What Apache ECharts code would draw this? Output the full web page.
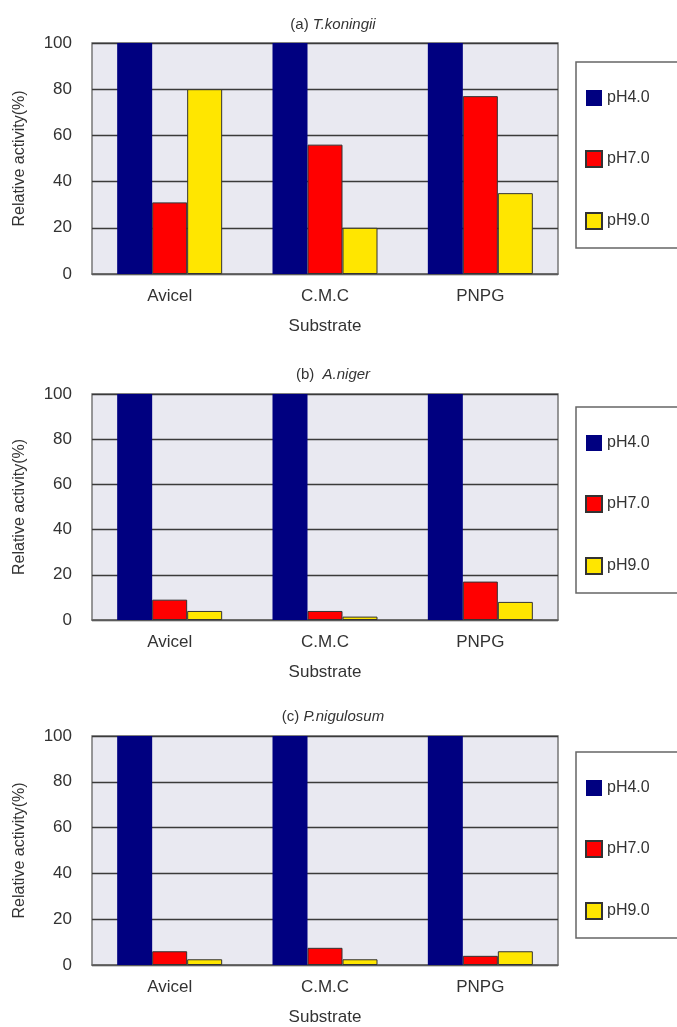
<!DOCTYPE html>
<html>
<head>
<meta charset="utf-8">
<script src="https://cdn.jsdelivr.net/npm/echarts@6/dist/echarts.min.js"></script>
<style>
html,body{margin:0;padding:0;background:#fff;}
#chart{width:677px;height:1027px;}
</style>
</head>
<body>
<div id="chart"></div>
<script>
// ---- data ----
const categories = ['Avicel', 'C.M.C', 'PNPG'];
const seriesNames = ['pH4.0', 'pH7.0', 'pH9.0'];
const yTicks = [0, 20, 40, 60, 80, 100];

const koningii_pH4 = [100, 100, 100];
const koningii_pH7 = [31, 56, 77];
const koningii_pH9 = [80, 20, 35];

const niger_pH4 = [100, 100, 100];
const niger_pH7 = [9, 4, 17];
const niger_pH9 = [4, 1.5, 8];

const nigulosum_pH4 = [100, 100, 100];
const nigulosum_pH7 = [6, 7.5, 4];
const nigulosum_pH9 = [2.5, 2.5, 6];

const panelLetters = ['(a) ', '(b)  ', '(c) '];
const panelSpecies = ['T.koningii', 'A.niger', 'P.nigulosum'];
const xAxisName = 'Substrate';
const yAxisName = 'Relative activity(%)';

// ---- layout / style ----
const FONT = 'Liberation Sans';
const colors = ['#000080', '#ff0000', '#ffe600'];
const gridTops = [43, 394, 736];
const gridHeights = [231, 226, 230];
const legendTops = [62, 407, 752];
const panelData = [
  [koningii_pH4, koningii_pH7, koningii_pH9],
  [niger_pH4, niger_pH7, niger_pH9],
  [nigulosum_pH4, nigulosum_pH7, nigulosum_pH9]
];

const grids = [], xAxes = [], yAxes = [], series = [], titles = [], legends = [];
for (let p = 0; p < 3; p++) {
  grids.push({
    left: 92, width: 466, top: gridTops[p], height: gridHeights[p],
    show: true, backgroundColor: '#e9e9f1', borderColor: '#777', borderWidth: 1.5
  });
  xAxes.push({
    type: 'category', gridIndex: p, data: categories,
    axisTick: {show: false},
    axisLine: {lineStyle: {color: '#666', width: 1.5}},
    axisLabel: {color: '#333', fontSize: 17, fontFamily: FONT, margin: 14},
    name: xAxisName, nameLocation: 'middle', nameGap: 44,
    nameTextStyle: {color: '#333', fontSize: 17, fontFamily: FONT}
  });
  yAxes.push({
    type: 'value', gridIndex: p, min: yTicks[0], max: yTicks[yTicks.length - 1], interval: 20,
    axisLine: {show: false}, axisTick: {show: false},
    splitLine: {lineStyle: {color: '#3a3a3a', width: 1.3}},
    axisLabel: {color: '#333', fontSize: 17, fontFamily: FONT, margin: 20},
    name: yAxisName, nameLocation: 'middle', nameGap: 64, nameRotate: 90,
    nameTextStyle: {color: '#333', fontSize: 16, fontFamily: FONT}
  });
  for (let s = 0; s < 3; s++) {
    series.push({
      type: 'bar', name: seriesNames[s], xAxisIndex: p, yAxisIndex: p,
      data: panelData[p][s], barWidth: 35, barGap: '0%',
      itemStyle: {color: colors[s], borderColor: s === 0 ? colors[0] : '#333', borderWidth: s === 0 ? 0 : 1},
      emphasis: {disabled: true}
    });
  }
  titles.push({
    text: '{a|' + panelLetters[p] + '}{b|' + panelSpecies[p] + '}',
    left: 328, textAlign: 'center', top: [12, 362, 704][p],
    textStyle: {
      fontWeight: 'normal',
      rich: {
        a: {fontSize: 15, fontFamily: FONT, color: '#333', fontWeight: 'normal'},
        b: {fontSize: 15, fontFamily: FONT, color: '#333', fontStyle: 'italic', fontWeight: 'normal'}
      }
    }
  });
  legends.push({
    orient: 'vertical', left: 576, top: legendTops[p],
    data: seriesNames.map(n => ({name: n, icon: 'rect'})),
    itemWidth: 16, itemHeight: 16, itemGap: 44,
    padding: [28, 40, 18, 9],
    borderColor: '#666', borderWidth: 1.5, backgroundColor: '#fff',
    textStyle: {color: '#333', fontSize: 16, fontFamily: FONT},
    selectedMode: false
  });
}

const chart = echarts.init(document.getElementById('chart'), null, {renderer: 'canvas'});
chart.setOption({
  backgroundColor: '#ffffff',
  animation: false,
  color: colors,
  title: titles,
  legend: legends,
  grid: grids,
  xAxis: xAxes,
  yAxis: yAxes,
  series: series
});
</script>
</body>
</html>
